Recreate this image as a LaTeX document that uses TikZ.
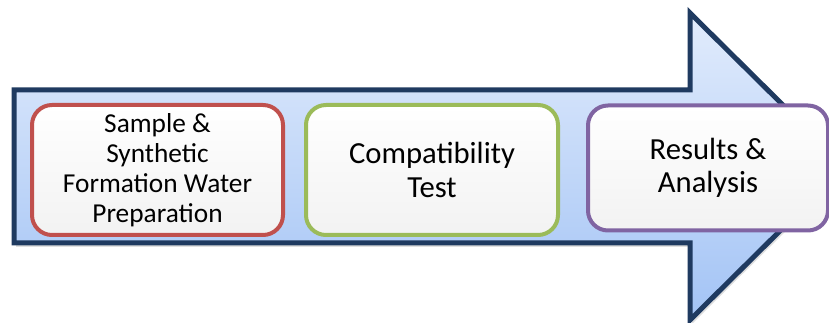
\documentclass[tikz,border=0pt]{standalone}
\usepackage{fontspec}
\setmainfont{Carlito}
\usetikzlibrary{shadows}
\definecolor{navy}{HTML}{1F3A60}
\definecolor{shadetop}{HTML}{E2ECFC}
\definecolor{shadebot}{HTML}{A2C3F5}
\definecolor{redline}{HTML}{C0504D}
\definecolor{greenline}{HTML}{9BBB59}
\definecolor{purpleline}{HTML}{8064A2}
\tikzset{
  stepbox/.style={rectangle, rounded corners=15pt, line width=3pt,
    top color=white, bottom color=white!95!black, align=center,
    inner sep=0pt, text=black},
  bigtext/.style={font=\fontsize{23}{25}\selectfont},
  smalltext/.style={font=\fontsize{20.5}{22.5}\selectfont},
}
\begin{document}
\begin{tikzpicture}[x=0.75pt,y=-0.75pt]
\useasboundingbox (0,0) rectangle (829,323);
\clip (0,0) rectangle (829,323);
% arrow
\path[draw=navy, line width=3.75pt, line join=miter,
      top color=shadetop, bottom color=shadebot,
      drop shadow={opacity=0.25, shadow xshift=1.5pt, shadow yshift=-3pt}]
  (14,90) -- (690,90) -- (690,13) -- (845,166.5) -- (690,320) -- (690,243) -- (14,243) -- cycle;
% boxes
\node[stepbox, smalltext, draw=redline, minimum width=251*0.75pt, minimum height=130*0.75pt]
  (sA) at (157.5,170) {Sample \&\\Synthetic\\Formation Water\\Preparation};
\node[stepbox, bigtext, draw=greenline, minimum width=252*0.75pt, minimum height=130*0.75pt]
  (sB) at (432,170) {Compatibility\\Test};
\node[stepbox, bigtext, draw=purpleline, minimum width=240*0.75pt, minimum height=125*0.75pt]
  (sC) at (708,168) {Results \&\\Analysis};
\end{tikzpicture}
\end{document}
